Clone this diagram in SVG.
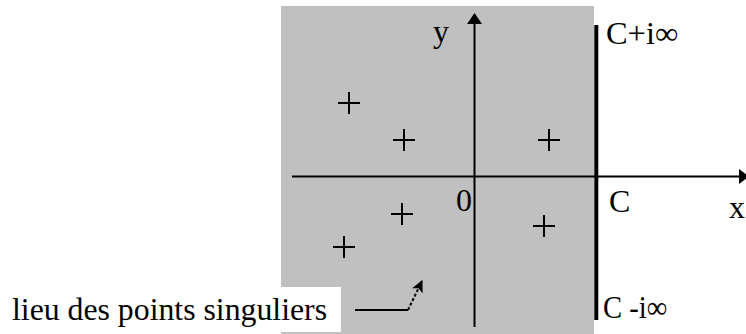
<svg xmlns="http://www.w3.org/2000/svg" width="746" height="334" viewBox="0 0 746 334">
<style>
.t{font-family:'Liberation Serif','DejaVu Serif',serif;font-size:32px;fill:#000}
.ax{stroke:#000;stroke-width:2;fill:none}
.pl{stroke:#000;stroke-width:2;fill:none}
</style>
<defs>
<marker id="ah" viewBox="0 0 12 12" refX="11" refY="6" markerWidth="12" markerHeight="12" markerUnits="userSpaceOnUse" orient="auto">
<path d="M0,0 L12,6 L0,12 L3,6 Z" fill="#000"/>
</marker>
<path id="plus" d="M-11,0 H11 M0,-11 V11" class="pl"/>
</defs>
<rect id="region" x="281" y="6" width="313" height="328" fill="#C0C0C0"/>
<rect id="labelbg" x="0" y="287" width="341" height="45" fill="#fff"/>
<g id="connectors">
<line class="ax" x1="474.5" y1="327" x2="474.5" y2="22"/>
<path d="M474.5,13 L482,24 L467,24 Z" fill="#000"/>
<line class="ax" x1="292" y1="176.5" x2="740" y2="176.5"/>
<path d="M749,176.5 L739,169 L739,184 Z" fill="#000"/>
<line x1="596.3" y1="25" x2="596.3" y2="320" stroke="#000" stroke-width="4"/>
<path d="M355,310 H408" stroke="#000" stroke-width="2" fill="none"/>
<path d="M408,310 L422,281" stroke="#000" stroke-width="2" stroke-dasharray="3,2" fill="none" marker-end="url(#ah)"/>
</g>
<g id="singular-points">
<use href="#plus" x="349" y="103"/>
<use href="#plus" x="404" y="140"/>
<use href="#plus" x="549" y="140"/>
<use href="#plus" x="402" y="214"/>
<use href="#plus" x="344" y="247"/>
<use href="#plus" x="544" y="226"/>
</g>
<g id="label-y"><text class="t" font-family="Liberation Serif, serif" x="433" y="42">y</text></g>
<g id="label-x"><text class="t" font-family="Liberation Serif, serif" x="729" y="218">x</text></g>
<g id="label-0"><text class="t" font-family="Liberation Serif, serif" x="456" y="211">0</text></g>
<g id="label-C"><text class="t" font-family="Liberation Serif, serif" x="609" y="212">C</text></g>
<g id="label-Cplus"><text class="t" font-family="Liberation Serif, serif" x="606" y="44" textLength="72" lengthAdjust="spacingAndGlyphs">C+i∞</text></g>
<g id="label-Cminus"><text class="t" font-family="Liberation Serif, serif" x="603" y="318" textLength="64" lengthAdjust="spacingAndGlyphs">C -i∞</text></g>
<g id="label-lieu"><text class="t" font-family="Liberation Serif, serif" x="12" y="320" textLength="315" lengthAdjust="spacingAndGlyphs">lieu des points singuliers</text></g>
</svg>
